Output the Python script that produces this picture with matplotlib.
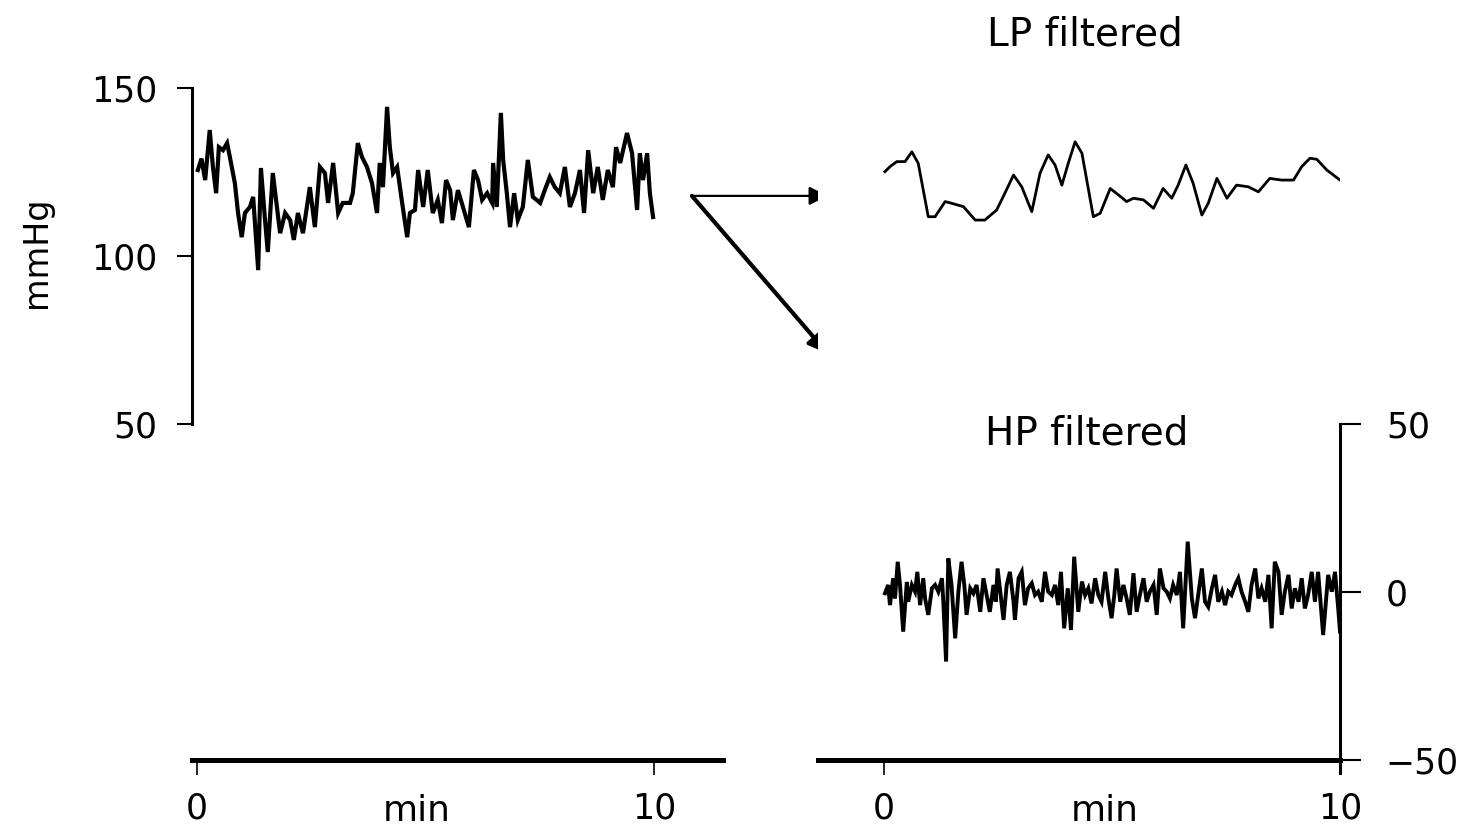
import matplotlib
matplotlib.use("Agg")
import matplotlib.pyplot as plt

plt.rcParams['font.family'] = ['DejaVu Sans']

# ---------------- data ----------------
# raw blood pressure trace (mmHg) vs time (min)
raw_t = [0.02, 0.10, 0.18, 0.28, 0.35, 0.42, 0.48, 0.57, 0.66, 0.72, 0.83, 0.90, 0.98, 1.05, 1.16,
         1.23, 1.34, 1.40, 1.49, 1.55, 1.66, 1.75, 1.82, 1.93, 2.04, 2.12, 2.21, 2.32, 2.47, 2.58,
         2.69, 2.80, 2.87, 2.98, 3.09, 3.19, 3.35, 3.41, 3.52, 3.61, 3.72, 3.83, 3.94, 4.00, 4.07,
         4.16, 4.22, 4.29, 4.38, 4.49, 4.60, 4.66, 4.77, 4.84, 4.95, 5.05, 5.16, 5.27, 5.36, 5.45,
         5.54, 5.60, 5.71, 5.82, 5.95, 6.06, 6.15, 6.24, 6.35, 6.46, 6.48, 6.56, 6.65, 6.70, 6.78,
         6.85, 6.94, 7.02, 7.13, 7.24, 7.35, 7.51, 7.61, 7.72, 7.83, 7.94, 8.05, 8.16, 8.27, 8.38,
         8.47, 8.56, 8.67, 8.77, 8.88, 8.99, 9.10, 9.17, 9.26, 9.41, 9.52, 9.63, 9.69, 9.76, 9.85,
         9.91, 9.98]
raw_v = [125.6, 129.0, 122.6, 137.5, 126.5, 118.7, 132.4, 131.5, 133.6, 129.5, 121.7, 112.8, 105.6,
         112.8, 114.6, 117.6, 95.8, 126.2, 110.7, 101.2, 124.7, 114.6, 106.8, 112.8, 110.7, 104.8,
         112.8, 106.8, 120.5, 108.6, 126.5, 124.7, 115.8, 127.7, 112.8, 115.8, 115.8, 118.7, 133.6,
         129.5, 126.5, 121.7, 112.8, 127.7, 120.5, 144.4, 132.4, 124.7, 126.5, 115.8, 105.6, 112.8,
         113.7, 125.6, 114.6, 125.6, 112.8, 116.7, 109.8, 122.6, 119.6, 110.7, 119.6, 114.6, 108.6,
         125.6, 122.6, 116.7, 118.7, 115.8, 127.7, 114.6, 142.6, 128.6, 118.7, 108.6, 118.7, 110.7,
         114.6, 128.6, 117.6, 115.8, 119.6, 123.5, 120.5, 118.7, 126.5, 114.6, 118.7, 125.6, 112.8,
         131.5, 118.7, 126.5, 116.7, 125.6, 120.5, 132.4, 127.7, 136.6, 130.6, 113.7, 130.6, 122.6,
         130.6, 118.7, 111.6]

# low-pass filtered trace (mmHg)
lp_t = [0.02, 0.13, 0.28, 0.46, 0.61, 0.75, 0.97, 1.12, 1.34, 1.48, 1.74, 2.00, 2.21, 2.47, 2.65,
        2.84, 3.02, 3.24, 3.42, 3.60, 3.75, 3.90, 4.04, 4.19, 4.34, 4.59, 4.74, 4.96, 5.14, 5.32,
        5.47, 5.69, 5.91, 6.12, 6.31, 6.45, 6.62, 6.78, 6.97, 7.11, 7.30, 7.52, 7.73, 7.99, 8.21,
        8.46, 8.72, 8.98, 9.16, 9.34, 9.49, 9.71, 10.0]
lp_v = [125.1, 126.6, 128.1, 128.1, 131.0, 127.6, 111.7, 111.7, 116.2, 115.7, 114.7, 110.7, 110.7,
        113.7, 118.7, 124.1, 120.6, 113.2, 124.6, 130.1, 127.1, 121.1, 127.6, 134.0, 130.6, 111.7,
        112.7, 120.1, 118.2, 116.2, 117.2, 116.7, 114.2, 120.1, 117.2, 121.1, 127.1, 121.6, 112.2,
        115.7, 123.1, 117.2, 121.1, 120.6, 119.1, 123.1, 122.6, 122.6, 126.6, 129.1, 128.8, 125.6,
        122.6]

# high-pass filtered trace (mmHg)
hp_t = [0.02, 0.09, 0.13, 0.20, 0.24, 0.30, 0.35, 0.42, 0.50, 0.53,
        0.61, 0.68, 0.73, 0.79, 0.86, 0.90, 0.97, 1.05, 1.12, 1.19,
        1.27, 1.30, 1.36, 1.41, 1.48, 1.56, 1.63, 1.70, 1.76, 1.81,
        1.89, 1.96, 2.03, 2.11, 2.18, 2.25, 2.32, 2.40, 2.45, 2.49,
        2.54, 2.62, 2.69, 2.76, 2.84, 2.87, 2.95, 3.02, 3.09, 3.16,
        3.24, 3.31, 3.38, 3.46, 3.53, 3.60, 3.68, 3.75, 3.82, 3.88,
        3.95, 4.03, 4.10, 4.17, 4.26, 4.34, 4.41, 4.48, 4.55, 4.63,
        4.70, 4.77, 4.85, 4.92, 4.99, 5.05,
        5.10, 5.18, 5.25, 5.32, 5.39, 5.47, 5.54, 5.61, 5.69, 5.76,
        5.83, 5.91, 5.98, 6.05, 6.13, 6.20, 6.27, 6.34, 6.42, 6.49,
        6.56, 6.66, 6.75, 6.82, 6.89, 6.97, 7.04, 7.11, 7.19, 7.26,
        7.33, 7.41, 7.48, 7.55, 7.62, 7.70, 7.77, 7.84, 7.92, 7.99,
        8.06, 8.14, 8.21, 8.28, 8.36, 8.43, 8.50, 8.57, 8.65, 8.72,
        8.79, 8.87, 8.94, 9.01, 9.09, 9.16, 9.23, 9.30, 9.38, 9.45,
        9.52, 9.63, 9.74, 9.82, 9.89, 9.96, 10.0]
hp_v = [-0.4, 2.1, -3.9, 4.1, -1.9, 9.0, 2.1, -11.8, 3.0, -2.9,
        2.1, 0.1, 6.0, -3.9, 4.1, -1.9, -6.8, 1.1, 2.1, 0.1,
        4.1, -2.9, -20.7, 10.0, 2.1, -13.8, 0.1, 9.0, 2.1, -6.8,
        1.1, -0.4, 2.1, -5.9, 4.1, -0.9, -5.9, 2.1, -2.9, 7.0,
        1.1, -8.3, 2.1, 6.0, -2.9, -8.3, 4.1, 6.0, -3.9, 1.1,
        2.6, -0.9, 0.1, -2.9, 6.0, 0.1, -0.9, 2.1, -3.9, 6.0,
        -10.8, 1.1, -11.3, 10.5, -5.9, 3.1, -0.9, 1.1, -3.4, 4.1,
        -0.9, -2.9, 6.0, -1.9, -7.8, -0.9,
        7.0, -2.9, 2.1, -1.9, -6.8, 5.6, -5.9, -0.9, 4.1, -2.9,
        0.1, 2.1, -6.8, 7.0, 1.1, 0.1, -1.9, 2.1, -0.9, 6.0,
        -10.8, 15.0, -1.9, -7.8, -0.9, 7.0, -2.9, -4.4, 1.1, 5.1,
        -2.9, 0.1, -3.9, 0.1, -0.9, 2.1, 4.1, 0.1, -2.9, -5.9,
        2.1, 7.0, -1.9, 1.1, -2.9, 5.1, -10.8, 9.0, 6.0, -6.8,
        0.1, 5.1, -4.9, 1.1, -2.9, 4.1, -4.9, -0.9, 6.0, -2.9,
        6.0, -12.8, 5.1, 0.1, 6.0, -4.9, -11.8]

left_yticks = [50, 100, 150]
right_yticks = [-50, 0, 50]
xticks = [0, 10]

# ---------------- figure ----------------
fig = plt.figure(figsize=(14.74, 8.33), dpi=100)
YLIM = (-54, 170)
FS = 25

ax1 = fig.add_axes([0.1305, 0.0715, 0.3597, 0.9035])
ax2 = fig.add_axes([0.5549, 0.0715, 0.3542, 0.9035])

# left: raw trace
ax1.plot(raw_t, raw_v, color='black', lw=3.0, solid_joinstyle='miter')
ax1.set_xlim(-0.1, 11.5)
ax1.set_ylim(*YLIM)
for s in ['top', 'right']:
    ax1.spines[s].set_visible(False)
ax1.spines['left'].set_bounds(50, 150)
ax1.spines['left'].set_linewidth(2.2)
ax1.spines['bottom'].set_position(('data', -50))
ax1.spines['bottom'].set_linewidth(3.6)
ax1.set_yticks(left_yticks)
ax1.set_xticks(xticks)
ax1.tick_params(axis='y', length=11, width=1.5, pad=14, labelsize=FS)
ax1.tick_params(axis='x', length=11, width=1.2, pad=12, labelsize=FS)
ax1.set_ylabel('mmHg', fontsize=FS - 1)
ax1.yaxis.set_label_coords(-0.262, 0.693)
ax1.text(4.8, -60, 'min', fontsize=FS + 1, ha='center', va='top')

# arrows
ax1.annotate('', xy=(13.8, 117.9), xytext=(10.83, 117.9), annotation_clip=False,
             arrowprops=dict(arrowstyle='-|>', color='black', lw=1.6,
                             mutation_scale=28, shrinkA=0, shrinkB=0))
ax1.annotate('', xy=(13.8, 71.0), xytext=(10.83, 117.9), annotation_clip=False,
             arrowprops=dict(arrowstyle='-|>', color='black', lw=3.0,
                             mutation_scale=28, shrinkA=0, shrinkB=0))

# right: filtered traces
ax2.plot(lp_t, lp_v, color='black', lw=2.0)
ax2.plot(hp_t, hp_v, color='black', lw=2.8, solid_joinstyle='miter')
ax2.set_xlim(-1.45, 10)
ax2.set_ylim(*YLIM)
for s in ['top', 'left']:
    ax2.spines[s].set_visible(False)
ax2.spines['right'].set_bounds(-54, 50)
ax2.spines['right'].set_linewidth(2.2)
ax2.spines['bottom'].set_position(('data', -50))
ax2.spines['bottom'].set_linewidth(3.6)
ax2.yaxis.tick_right()
ax2.set_yticks(right_yticks)
ax2.set_xticks(xticks)
ax2.tick_params(axis='y', length=15, width=1.5, pad=18, labelsize=FS)
ax2.tick_params(axis='x', length=11, width=1.2, pad=12, labelsize=FS)
ax2.text(4.85, -60, 'min', fontsize=FS + 1, ha='center', va='top')
ax2.text(4.4, 166, 'LP filtered', fontsize=28, ha='center', va='center')
ax2.text(4.45, 47.3, 'HP filtered', fontsize=28, ha='center', va='center')

fig.savefig('out.png', dpi=100)
